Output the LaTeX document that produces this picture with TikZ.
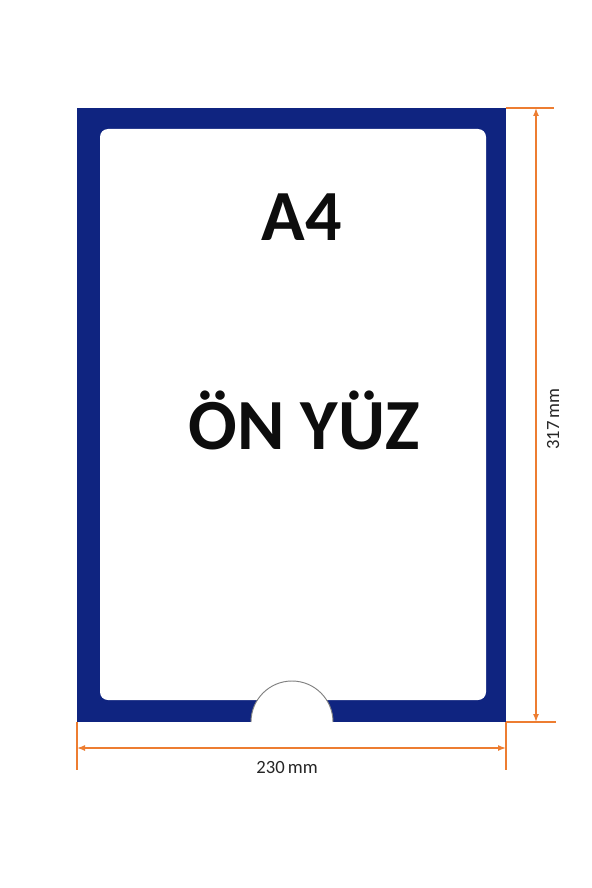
\documentclass[tikz,border=0pt]{standalone}
\usepackage{fontspec}
\setmainfont{Carlito}
\usetikzlibrary{arrows.meta}
\definecolor{framec}{RGB}{15,36,128}
\definecolor{dimc}{RGB}{237,125,49}
\tikzset{
  dimline/.style={dimc, line width=1.1pt, {Latex[length=6pt,width=4.5pt]}-{Latex[length=6pt,width=4.5pt]}},
  extline/.style={dimc, line width=0.9pt},
  dimlabel/.style={text=black!85, font=\fontsize{14}{16}\selectfont, inner sep=1pt},
  bigtext/.style={text=black!95, font=\bfseries\fontsize{54}{60}\selectfont, inner sep=0pt}
}
\begin{document}
\begin{tikzpicture}[x=0.75pt, y=-0.75pt]
    % Page area
    \fill[white] (0,0) rectangle (592,888);
    \useasboundingbox (0,0) rectangle (592,888);

    % Draw the blue frame
    \fill[framec] (77,108) rectangle (506,722);
    \fill[white, rounded corners=6pt] (100,129) rectangle (486,700);

    % Thumb cut-out at the bottom
    \fill[white] (251,722) arc[start angle=180, end angle=360, radius=41] -- cycle;
    \draw[gray, line width=0.7pt] (251,722) arc[start angle=180, end angle=360, radius=41];

    % Labels
    \node[bigtext] (format) at (302,217) {A4};
    \node[bigtext] (side) at (304,420) {ÖN YÜZ};

    % Dimension points
    \coordinate (tr) at (506,108);
    \coordinate (br) at (506,722);
    \coordinate (bl) at (77,722);
    \coordinate (htop) at (554,108);
    \coordinate (hbot) at (556,722);
    \coordinate (vleft) at (77,770);
    \coordinate (vright) at (506,770);
    \coordinate (hA) at (536,108);
    \coordinate (hB) at (536,722);
    \coordinate (wA) at (77,748);
    \coordinate (wB) at (506,748);

    % Extension lines
    \draw[extline] (tr) -- (htop);
    \draw[extline] (br) -- (hbot);
    \draw[extline] (bl) -- (vleft);
    \draw[extline] (br) -- (vright);

    % Dimension lines
    \draw[dimline] (hA) -- (hB);
    \draw[dimline] (wA) -- (wB);
    \node[dimlabel, rotate=90] (height) at (553,419) {317\,mm};
    \node[dimlabel] (width) at (287,767) {230\,mm};
\end{tikzpicture}
\end{document}
